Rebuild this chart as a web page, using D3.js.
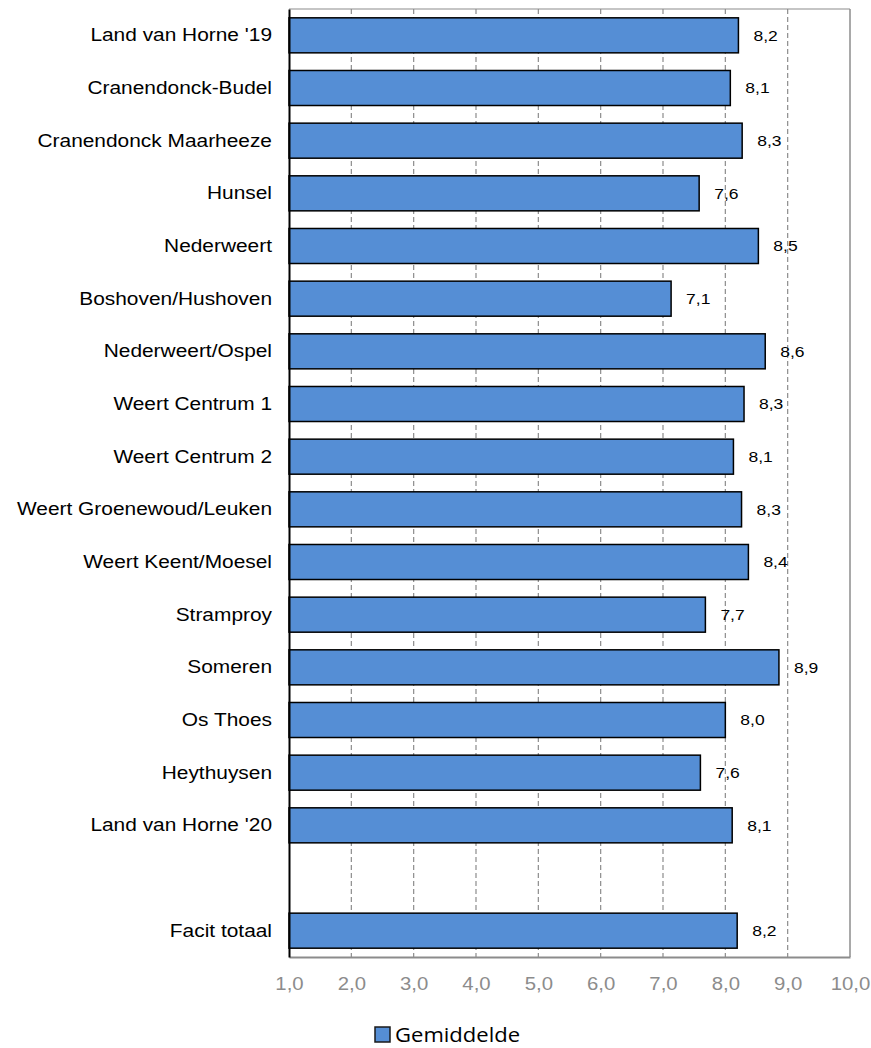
<!DOCTYPE html>
<meta charset="utf-8">
<style>
  body { margin: 0; background: #fff; }
  text { font-family: Arial, "Liberation Sans", sans-serif; }
</style>
<script src="https://d3js.org/d3.v7.min.js"></script>
<div id="chart"></div>
<script>
  // data
  var categories = ["Land van Horne '19", "Cranendonck-Budel", "Cranendonck Maarheeze", "Hunsel",
    "Nederweert", "Boshoven/Hushoven", "Nederweert/Ospel", "Weert Centrum 1", "Weert Centrum 2",
    "Weert Groenewoud/Leuken", "Weert Keent/Moesel", "Stramproy", "Someren", "Os Thoes",
    "Heythuysen", "Land van Horne '20", "", "Facit totaal"];
  var values = [8.21, 8.08, 8.27, 7.58, 8.53, 7.13, 8.64, 8.3, 8.13, 8.26, 8.37, 7.68, 8.86, 8.0,
    7.6, 8.11, null, 8.19];
  var ticks = [1, 2, 3, 4, 5, 6, 7, 8, 9, 10];
  var seriesName = "Gemiddelde";

  var margin = { top: 9, right: 21, bottom: 91, left: 289 },
    width = 871 - margin.left - margin.right,
    height = 1048 - margin.top - margin.bottom;

  // the original picture is a bit wider than tall, text is stretched too
  var sx = 1.13;

  var svg = d3.select("#chart").append("svg")
    .attr("width", 871)
    .attr("height", 1048)
    .append("g")
    .attr("transform", "translate(" + margin.left + "," + margin.top + ")");

  var x = d3.scaleLinear().domain([1, 10]).range([0, width]);
  var y = d3.scaleBand()
    .domain(categories.map(function (d, i) { return i; }))
    .range([0, height])
    .paddingInner(0.335)
    .paddingOuter(0.1675);

  var fmt = function (v) { return d3.format(".1f")(v).replace(".", ","); };

  // gridlines
  svg.selectAll(".grid")
    .data(ticks.slice(1, -1))
    .enter().append("line")
    .attr("x1", function (d) { return x(d); })
    .attr("x2", function (d) { return x(d); })
    .attr("y1", 0)
    .attr("y2", height + 4)
    .attr("stroke", "#8c8c8c")
    .attr("stroke-width", 1.2)
    .attr("stroke-dasharray", "5,3");

  // top and right border
  svg.append("line").attr("x1", 0).attr("x2", width).attr("y1", 0).attr("y2", 0)
    .attr("stroke", "#8c8c8c").attr("stroke-width", 1.2);
  svg.append("line").attr("x1", width).attr("x2", width).attr("y1", 0).attr("y2", height)
    .attr("stroke", "#8c8c8c").attr("stroke-width", 1.5);

  // x axis
  var xAxis = svg.append("g")
    .attr("transform", "translate(0," + height + ")")
    .call(d3.axisBottom(x).tickValues(ticks).tickFormat(fmt).tickSize(0).tickPadding(20));
  xAxis.select(".domain").attr("stroke", "#8c8c8c").attr("stroke-width", 2);
  xAxis.selectAll("text")
    .attr("fill", "#8c8c8c")
    .attr("transform", "scale(" + sx + ",1)")
    .style("font-size", "18px")
    .style("font-family", "Arial, 'Liberation Sans', sans-serif");

  // bars
  var rows = categories.map(function (c, i) { return { i: i, name: c, value: values[i] }; });
  var filled = rows.filter(function (d) { return d.value !== null; });

  svg.selectAll(".bar")
    .data(filled)
    .enter().append("rect")
    .attr("x", x(1))
    .attr("y", function (d) { return y(d.i); })
    .attr("width", function (d) { return x(d.value) - x(1); })
    .attr("height", y.bandwidth())
    .attr("fill", "#558ed5")
    .attr("stroke", "#000")
    .attr("stroke-width", 1.5);

  svg.selectAll(".lbl")
    .data(filled)
    .enter().append("g")
    .attr("transform", function (d) {
      return "translate(" + (x(d.value) + 15) + "," + (y(d.i) + y.bandwidth() / 2) + ")";
    })
    .append("text")
    .attr("transform", "scale(" + sx + ",1)")
    .attr("dy", "0.35em")
    .style("font-size", "15.5px")
    .attr("fill", "#000")
    .text(function (d) { return fmt(d.value); });

  // y axis
  var pad = 17;
  var yAxis = svg.append("g")
    .call(d3.axisLeft(y).tickFormat(function (i) { return categories[i]; }).tickSize(0).tickPadding(pad));
  yAxis.select(".domain").attr("stroke", "#000").attr("stroke-width", 2);
  yAxis.selectAll("text")
    .attr("fill", "#000")
    .attr("x", -pad / sx)
    .attr("transform", "scale(" + sx + ",1)")
    .style("font-size", "18.5px")
    .style("font-family", "Arial, 'Liberation Sans', sans-serif");

  // legend
  var legend = svg.append("g")
    .attr("transform", "translate(" + (375 - margin.left) + "," + (1027 - margin.top) + ")");
  legend.append("rect")
    .attr("width", 15).attr("height", 15)
    .attr("fill", "#558ed5").attr("stroke", "#1a1a1a").attr("stroke-width", 1.5);
  legend.append("text")
    .attr("transform", "translate(20,8) scale(" + sx + ",1)")
    .attr("dy", "0.35em")
    .style("font-family", "'Open Sans', sans-serif")
    .style("font-size", "19.5px")
    .attr("fill", "#000")
    .text(seriesName);
</script>
